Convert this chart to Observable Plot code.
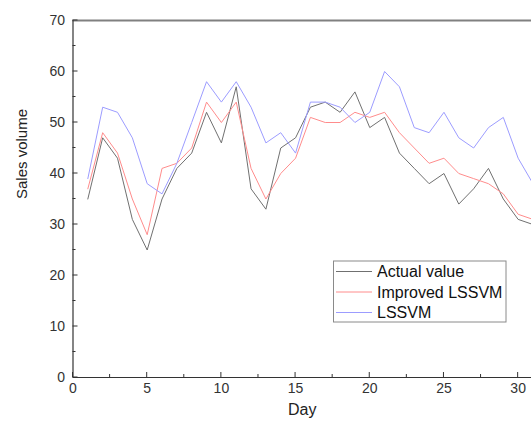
<!DOCTYPE html>
<html>
<head>
<meta charset="utf-8">
<script src="https://cdn.jsdelivr.net/npm/d3@7"></script>
<script src="https://cdn.jsdelivr.net/npm/@observablehq/plot@0.6"></script>
<style>
  html, body { margin: 0; padding: 0; background: #fff; overflow: hidden; }
  #chart svg { display: block; }
</style>
</head>
<body>
<div id="chart"></div>
<script>
const days = d3.range(1, 32);
const actualValue = [35,47,43,31,25,35,41,44,52,46,57,37,33,45,47,53,54,52,56,49,51,44,41,38,40,34,37,41,35,31,30];
const improvedLSSVM = [37,48,44,35,28,41,42,45,54,50,54,41,35,40,43,51,50,50,52,51,52,48,45,42,43,40,39,38,36,32,31];
const lssvm = [39,53,52,47,38,36,42,50,58,54,58,53,46,48,44,54,54,53,50,52,60,57,49,48,52,47,45,49,51,43,38];
const seriesNames = ["Actual value", "Improved LSSVM", "LSSVM"];
const seriesColors = ["#707070", "#ff8c8c", "#9c9cff"];
const seriesValues = [actualValue, improvedLSSVM, lssvm];
const xTicks = [0, 5, 10, 15, 20, 25, 30];
const xMinor = [2.5, 7.5, 12.5, 17.5, 22.5, 27.5];
const yTicks = [0, 10, 20, 30, 40, 50, 60, 70];
const yMinor = [5, 15, 25, 35, 45, 55, 65];

const rows = [];
seriesNames.forEach((name, i) => {
  days.forEach((d, j) => rows.push({series: name, day: d, value: seriesValues[i][j]}));
});

const font = "Liberation Sans, Arial, sans-serif";

const plot = Plot.plot({
  width: 531,
  height: 425,
  marginLeft: 72.5,
  marginRight: 0,
  marginTop: 20,
  marginBottom: 48,
  style: {fontFamily: font, fontSize: "14px", color: "#333", background: "#fff"},
  x: {domain: [0, 30.9]},
  y: {domain: [0, 70]},
  marks: [
    Plot.ruleY([70], {stroke: "#808080", strokeWidth: 2}),
    Plot.line(rows, {x: "day", y: "value", z: "series",
      stroke: d => seriesColors[seriesNames.indexOf(d.series)], strokeWidth: 1, clip: true}),
    Plot.axisX(xTicks, {tickSize: 0, tickPadding: 6, label: null, fontSize: 14, fill: "#333"}),
    Plot.axisY(yTicks, {tickSize: 0, tickPadding: 8, label: null, fontSize: 14, fill: "#333"}),
    Plot.ruleY([0], {stroke: "#333", strokeWidth: 1.2}),
    Plot.ruleX([0], {stroke: "#333", strokeWidth: 1.2}),
    Plot.text(["Day"], {frameAnchor: "bottom", dy: 37, fontSize: 16, fill: "#222"}),
    Plot.text(["Sales volume"], {frameAnchor: "left", dx: -51, rotate: -90, fontSize: 15, fill: "#222"})
  ]
});

document.getElementById("chart").appendChild(plot);

const svg = d3.select(plot);
const sx = plot.scale("x"), sy = plot.scale("y");
const x0 = sx.apply(0), y0 = sy.apply(0);

// inward tick marks
const tg = svg.append("g").attr("stroke", "#333").attr("stroke-width", 1);
xTicks.forEach(t => tg.append("line").attr("x1", sx.apply(t)).attr("x2", sx.apply(t)).attr("y1", y0).attr("y2", y0 - 5));
xMinor.forEach(t => tg.append("line").attr("x1", sx.apply(t)).attr("x2", sx.apply(t)).attr("y1", y0).attr("y2", y0 - 3));
yTicks.forEach(t => tg.append("line").attr("y1", sy.apply(t)).attr("y2", sy.apply(t)).attr("x1", x0).attr("x2", x0 + 5));
yMinor.forEach(t => tg.append("line").attr("y1", sy.apply(t)).attr("y2", sy.apply(t)).attr("x1", x0).attr("x2", x0 + 3));

// Legend box
const lg = svg.append("g").attr("font-family", font).attr("font-size", 16).attr("text-anchor", "start");
lg.append("rect").attr("x", 333.5).attr("y", 261).attr("width", 172.5).attr("height", 61)
  .attr("fill", "#fff").attr("stroke", "#8a8a8a").attr("stroke-width", 1);
seriesNames.forEach((name, i) => {
  const yy = 271.5 + i * 20.5;
  lg.append("line").attr("x1", 336).attr("x2", 372).attr("y1", yy).attr("y2", yy)
    .attr("stroke", seriesColors[i]).attr("stroke-width", 1);
  lg.append("text").attr("x", 377).attr("y", yy).attr("dy", "0.36em")
    .attr("fill", "#111").attr("text-anchor", "start").text(name);
});
</script>
</body>
</html>
